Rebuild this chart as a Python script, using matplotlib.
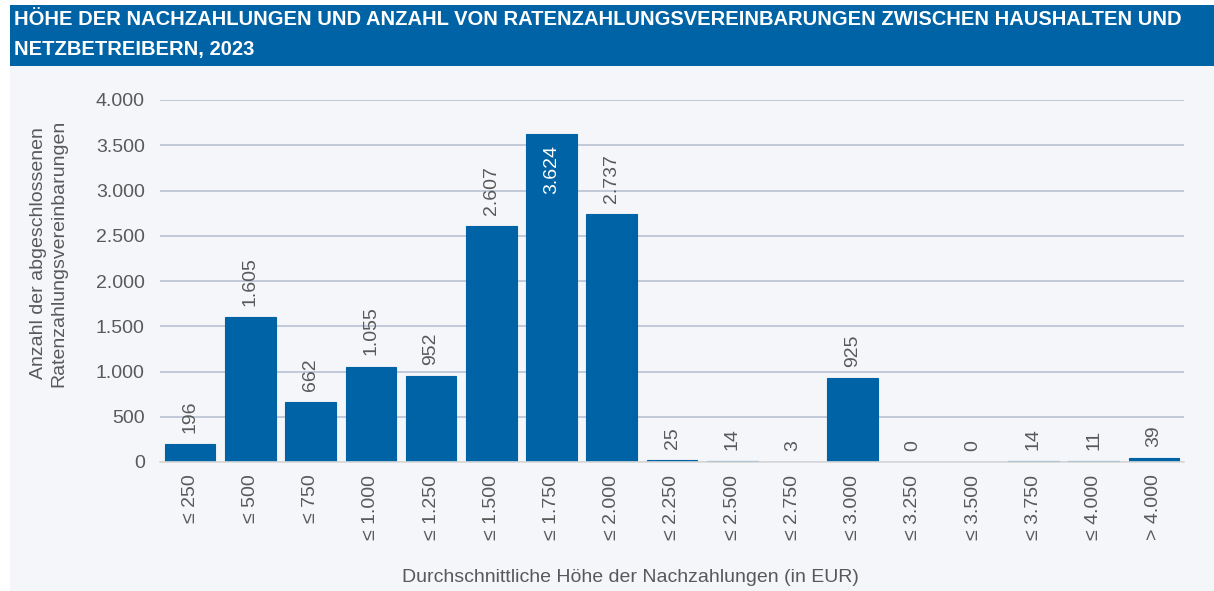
import matplotlib
matplotlib.use("Agg")
import matplotlib.pyplot as plt
from matplotlib.patches import Rectangle

categories = ["≤ 250", "≤ 500", "≤ 750", "≤ 1.000", "≤ 1.250", "≤ 1.500", "≤ 1.750",
              "≤ 2.000", "≤ 2.250", "≤ 2.500", "≤ 2.750", "≤ 3.000", "≤ 3.250",
              "≤ 3.500", "≤ 3.750", "≤ 4.000", "> 4.000"]
values = [196, 1605, 662, 1055, 952, 2607, 3624, 2737, 25, 14, 3, 925, 0, 0, 14, 11, 39]
yticks = [0, 500, 1000, 1500, 2000, 2500, 3000, 3500, 4000]

title = ("HÖHE DER NACHZAHLUNGEN UND ANZAHL VON RATENZAHLUNGSVEREINBARUNGEN ZWISCHEN HAUSHALTEN UND\n"
         "NETZBETREIBERN, 2023")
ylabel = "Anzahl der abgeschlossenen\nRatenzahlungsvereinbarungen"
xlabel = "Durchschnittliche Höhe der Nachzahlungen (in EUR)"

BLUE = "#0063A6"
BG = "#F4F6FA"
TXT = "#595959"
GRID = "#B9C1D3"
FS = 14

plt.rcParams['font.family'] = ['Liberation Sans', 'DejaVu Sans']

W, H = 1214, 591
fig = plt.figure(figsize=(W / 100, H / 100), dpi=100)
fig.patch.set_facecolor("white")

# background panel and title band
fig.patches.append(Rectangle((10 / W, 0), 1, 1 - 5 / H, transform=fig.transFigure,
                             facecolor=BG, edgecolor="none", zorder=-10))
fig.patches.append(Rectangle((10 / W, 1 - 66 / H), 1, 61 / H, transform=fig.transFigure,
                             facecolor=BLUE, edgecolor="none", zorder=-9))
fig.text(14 / W, 1 - 10 / H, title, ha="left", va="top", color="white", fontsize=14.5,
         fontweight="bold", linespacing=1.75)

left, right = 160 / W, 1184 / W
bottom, top = 1 - 462 / H, 1 - 100 / H
ax = fig.add_axes([left, bottom, right - left, top - bottom])
ax.set_facecolor("none")

x = list(range(len(categories)))
edges = [BLUE if v > 0 else "none" for v in values]
ax.bar(x, values, width=0.84, color=BLUE, edgecolor=edges, linewidth=0.8, zorder=3)
ax.set_xlim(-0.5, len(categories) - 0.5)
ax.set_ylim(0, 4000)
ax.set_yticks(yticks)
ax.set_yticklabels([f"{v:,}".replace(",", ".") for v in yticks], color=TXT, fontsize=FS)
ax.yaxis.grid(True, color=GRID, linewidth=1.2, zorder=0)
ax.set_axisbelow(True)
for s in ["top", "right", "left"]:
    ax.spines[s].set_visible(False)
ax.spines["bottom"].set_color("#D9D9D9")
ax.spines["bottom"].set_linewidth(1.2)
ax.spines["bottom"].set_zorder(4)
ax.tick_params(axis="y", length=0, pad=11)
ax.tick_params(axis="x", length=0, pad=9)
ax.set_xticks(x)
ax.set_xticklabels(categories, rotation=90, color=TXT, fontsize=FS, va="top")

for xi, v in zip(x, values):
    lab = f"{v:,}".replace(",", ".")
    if v > 3500:
        ax.annotate(lab, (xi, v), xytext=(0, -8), textcoords="offset points",
                    ha="center", va="top", rotation=90, color="white", fontsize=FS, zorder=5)
    else:
        ax.annotate(lab, (xi, v), xytext=(0, 8), textcoords="offset points",
                    ha="center", va="bottom", rotation=90, color=TXT, fontsize=FS, zorder=5)

fig.text(49 / W, 1 - 253 / H, ylabel, rotation=90, ha="center", va="center",
         color=TXT, fontsize=FS, linespacing=1.25)
fig.text(630 / W, 1 - 577 / H, xlabel, ha="center", va="center", color=TXT, fontsize=FS)

fig.savefig("out.png", dpi=100, facecolor=fig.get_facecolor())
